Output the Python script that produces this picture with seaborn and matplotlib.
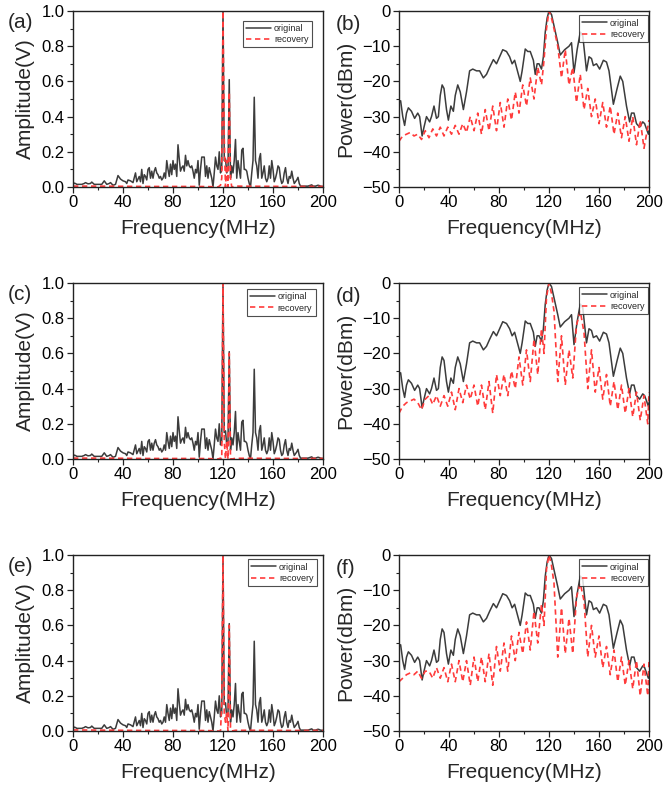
import numpy as np
import pandas as pd
import matplotlib
matplotlib.use("Agg")
import matplotlib.pyplot as plt
from matplotlib.ticker import MultipleLocator, FormatStrFormatter
import seaborn as sns

sns.set_style("ticks")
plt.rcParams["font.family"] = ["Liberation Sans", "DejaVu Sans"]

# ---------------- amplitude spectrum (original, shared by a/c/e) ----------------
amp_f = [0, 1, 2, 3, 5, 7, 9, 10, 12, 14, 15, 17, 19, 21, 23, 25, 27, 29, 30, 32, 34,
         36, 38, 40, 42, 43, 44, 46, 48, 50, 51, 53, 54, 55, 56, 57, 58, 59, 60, 61,
         62, 63, 64, 65, 66, 67, 68, 69, 70, 71, 72, 73, 74, 75, 76, 77, 78, 79, 80,
         81, 82, 83, 84, 85, 86, 87, 88, 89, 90, 91, 92, 93, 94, 95, 96, 97, 98, 99,
         100, 101, 102, 103, 104, 105, 106, 107, 108, 109, 110, 111, 112, 113, 114,
         115, 116, 117, 118, 119, 120, 121, 122, 123, 124, 125, 126, 127, 128, 129,
         130, 131, 132, 133, 134, 135, 136, 137, 138, 139, 140, 141, 142, 143, 144,
         145, 146, 147, 148, 149, 150, 151, 152, 153, 154, 155, 156, 157, 158, 159,
         160, 161, 162, 163, 164, 165, 166, 167, 168, 169, 170, 171, 172, 173, 174,
         175, 176, 177, 178, 179, 180, 181, 182, 184, 186, 188, 190, 191, 192, 194,
         196, 197, 198, 200]
amp_orig = [0.03, 0.02, 0.02, 0.015, 0.015, 0.015, 0.02, 0.025, 0.018, 0.02, 0.028,
            0.015, 0.015, 0.015, 0.015, 0.035, 0.015, 0.02, 0.025, 0.01, 0.015,
            0.065, 0.045, 0.035, 0.03, 0.02, 0.04, 0.035, 0.025, 0.08, 0.03, 0.06,
            0.03, 0.10, 0.02, 0.07, 0.06, 0.04, 0.10, 0.11, 0.05, 0.09, 0.05, 0.09,
            0.11, 0.08, 0.07, 0.05, 0.06, 0.04, 0.05, 0.08, 0.05, 0.15, 0.10, 0.06,
            0.13, 0.07, 0.15, 0.10, 0.13, 0.06, 0.24, 0.16, 0.09, 0.11, 0.12, 0.09,
            0.18, 0.12, 0.15, 0.12, 0.11, 0.12, 0.09, 0.05, 0.10, 0.08, 0.15, 0.01,
            0.10, 0.17, 0.17, 0.17, 0.06, 0.12, 0.05, 0.11, 0.08, 0.05, 0.00, 0.08,
            0.17, 0.12, 0.10, 0.20, 0.08, 0.10, 1.00, 0.15, 0.16, 0.08, 0.10, 0.61,
            0.05, 0.12, 0.08, 0.15, 0.27, 0.05, 0.15, 0.10, 0.05, 0.21, 0.22, 0.10,
            0.10, 0.09, 0.05, 0.02, 0.00, 0.08, 0.15, 0.51, 0.15, 0.12, 0.05, 0.16,
            0.19, 0.05, 0.08, 0.12, 0.05, 0.03, 0.05, 0.12, 0.05, 0.15, 0.10, 0.03,
            0.05, 0.08, 0.12, 0.11, 0.05, 0.02, 0.03, 0.08, 0.11, 0.05, 0.02, 0.06,
            0.05, 0.09, 0.05, 0.02, 0.03, 0.04, 0.055, 0.02, 0.005, 0.005, 0.005,
            0.005, 0.01, 0.012, 0.005, 0.005, 0.01, 0.008, 0.005, 0.003]

# ---------------- amplitude spectrum (recovered) ----------------
rec_amp_f = [0, 20, 40, 60, 80, 100, 110, 116, 118, 119, 120, 121, 122, 123, 124, 125,
             126, 127, 130, 150, 180, 200]
rec_amp_a = [0.005, 0.005, 0.004, 0.003, 0.003, 0.003, 0.002, 0.0, 0.01, 0.05, 1.0,
             0.28, 0.0, 0.15, 0.0, 0.54, 0.05, 0.0, 0.005, 0.004, 0.003, 0.003]
rec_amp_c = [0.005, 0.005, 0.004, 0.003, 0.003, 0.003, 0.002, 0.0, 0.005, 0.0, 1.0,
             0.10, 0.0, 0.10, 0.0, 0.60, 0.0, 0.0, 0.004, 0.004, 0.003, 0.003]
rec_amp_e = [0.006, 0.005, 0.004, 0.003, 0.003, 0.003, 0.002, 0.0, 0.0, 0.15, 1.0,
             0.10, 0.05, 0.10, 0.0, 0.60, 0.02, 0.0, 0.004, 0.004, 0.003, 0.003]

# ---------------- power spectrum (original, shared by b/d/f) ----------------
pow_f = [0, 1.3, 3, 4.5, 6, 7.5, 10, 12.5, 15, 16.5, 18.5, 20, 22, 24.5, 26, 28, 30,
         31.5, 33, 34.5, 36, 38, 39.5, 41.5, 43.5, 45, 47, 49, 51.5, 54, 56.5, 59, 62,
         64.5, 67.5, 70, 72.5, 75.5, 78, 80.5, 83, 86, 88.5, 90.5, 92.5, 94, 97, 98.5,
         101, 103, 105, 107.5, 109, 110.5, 112, 114, 115.5, 117, 118.5, 120, 122,
         124.5, 127, 129, 132.5, 136, 138, 140, 142.5, 145, 147, 150, 152, 154, 155.5,
         158, 160.5, 163.5, 166, 168, 171.5, 174.5, 177, 179, 182, 184.5, 186, 188,
         190, 192.5, 195, 196.5, 198, 199.5, 200]
pow_orig = [-26, -25.5, -30, -32.5, -29, -27.5, -28.5, -30.5, -29, -30, -35.5, -33,
            -30, -31.5, -30, -27, -30.5, -30, -24, -21, -22, -28, -31, -27, -28.5, -24,
            -21, -23, -28, -23, -17, -16.5, -17, -17, -19, -18, -16, -13.8, -15, -13,
            -11, -11.5, -13, -15, -14, -16, -20, -17, -10.8, -11.5, -11.5, -14, -18,
            -15, -15, -16.5, -13, -6, -2, 0, -1, -5, -9, -12.5, -11, -10, -9, -17.5,
            -11, -6, -7, -17, -13, -13.5, -15.5, -15, -16.5, -14, -14.5, -17, -26.5,
            -22, -18.5, -20, -27, -31.5, -29, -29, -32, -33, -31.5, -32, -33.5, -35,
            -34]

# ---------------- power spectrum (recovered) ----------------
# 3 MHz sampling on the flanks, finer sampling across the main lobe
rec_pow_f = (list(range(0, 115, 3)) + [116, 118, 120, 122, 124]
             + list(range(127, 200, 3)) + [200])

rec_pow_b = ([-37, -35.5, -35, -34.5, -35.5, -35, -36.5, -34, -36, -33.5,
              -35.5, -33, -35.5, -33, -35, -32.5, -35, -32, -34.5, -30,
              -34, -29, -35, -28, -34, -27, -34, -26, -33, -25,
              -31, -23, -29, -21, -27, -19, -25, -16, -21]
             + [-14, -5, 0, -2, -5]
             + [-10, -19, -11, -21, -16, -26, -18, -28, -22, -30,
                -25, -32, -26, -33, -27, -35, -29, -36, -30, -37,
                -30, -38, -31, -39, -33]
             + [-31])
rec_pow_d = ([-37, -35, -34, -33.5, -33, -34, -36, -33, -32, -34.5,
              -32, -35, -32, -35, -31, -36, -30, -34, -29, -33,
              -29, -35, -29, -36, -28, -37, -26, -32, -26, -32,
              -25, -30, -21, -29, -19, -28, -16, -26, -13]
             + [-20, -4, 0, -3, -8]
             + [-28, -15, -29, -19, -27, -12, -8, -14, -30, -19,
                -31, -24, -33, -26, -35, -28, -36, -29, -37, -30,
                -38, -31, -39, -32, -40]
             + [-31])
rec_pow_f6 = ([-36, -35, -34, -33.5, -34, -33, -35, -33, -33, -35,
               -32, -35, -32, -36, -31, -36, -30, -36, -30, -37,
               -29, -36, -29, -36, -28, -37, -26, -33, -25, -33,
               -23, -30, -22, -28, -19, -27, -16, -25, -14]
              + [-20, -4, 0, -3, -8]
              + [-29, -15, -28, -18, -28, -12, -8, -13, -29, -20,
                 -29, -23, -32, -26, -34, -27, -36, -29, -37, -30,
                 -38, -30, -40, -31, -40]
              + [-30])

ORIG_COLOR = "#3c3c3c"
REC_COLOR = "#ff3b3b"
REC_DASH = (0, (3.2, 2.2))

W, H = 663, 787
fig = plt.figure(figsize=(W / 100, H / 100), dpi=100)


def ax_at(left, top, right, bottom):
    return fig.add_axes([left / W, 1 - bottom / H, (right - left) / W, (bottom - top) / H])


rows = [(11, 187), (283, 459), (555, 731)]
left_x = (73, 323)
right_x = (399, 649)

amp_recs = [rec_amp_a, rec_amp_c, rec_amp_e]
pow_recs = [rec_pow_b, rec_pow_d, rec_pow_f6]
letters = [("(a)", "(b)"), ("(c)", "(d)"), ("(e)", "(f)")]
leg_left = [(0.955, 0.945), (0.97, 0.965), (0.975, 0.975)]


def style_axes(ax):
    for s in ax.spines.values():
        s.set_color("#222222")
        s.set_linewidth(1.0)
    ax.tick_params(which="major", direction="out", length=4, width=0.9,
                   labelsize=12, pad=2, colors="#222222", labelcolor="black")
    ax.tick_params(which="minor", direction="out", length=2.5, width=0.8, colors="#222222")
    ax.tick_params(top=False, right=False)
    ax.set_xlim(0, 200)
    ax.xaxis.set_major_locator(MultipleLocator(40))
    ax.xaxis.set_minor_locator(MultipleLocator(20))
    ax.set_xlabel("Frequency(MHz)", fontsize=15, labelpad=6)


def add_legend(ax, anchor):
    leg = ax.legend(loc="upper right", bbox_to_anchor=anchor, fontsize=6.5,
                    frameon=True, fancybox=False, handlelength=2.8,
                    handletextpad=0.3, borderpad=0.35, labelspacing=0.25,
                    borderaxespad=0.0)
    leg.get_frame().set_edgecolor("#222222")
    leg.get_frame().set_linewidth(0.8)


for i, (top, bottom) in enumerate(rows):
    # amplitude panel
    ax = ax_at(left_x[0], top, left_x[1], bottom)
    df_o = pd.DataFrame({"f": amp_f, "v": amp_orig})
    df_r = pd.DataFrame({"f": rec_amp_f, "v": amp_recs[i]})
    sns.lineplot(data=df_o, x="f", y="v", ax=ax, color=ORIG_COLOR, lw=1.1,
                 label="original", estimator=None)
    sns.lineplot(data=df_r, x="f", y="v", ax=ax, color=REC_COLOR, lw=1.2,
                 label="recovery", estimator=None, linestyle=REC_DASH)
    ax.set_ylim(0, 1.0)
    ax.yaxis.set_major_locator(MultipleLocator(0.2))
    ax.yaxis.set_minor_locator(MultipleLocator(0.1))
    ax.yaxis.set_major_formatter(FormatStrFormatter("%.1f"))
    style_axes(ax)
    ax.set_ylabel("Amplitude(V)", fontsize=15, labelpad=5)
    add_legend(ax, leg_left[i])
    fig.text(8 / W, 1 - (top + 11) / H, letters[i][0], fontsize=15, va="center", ha="left")

    # power panel
    ax = ax_at(right_x[0], top, right_x[1], bottom)
    df_o = pd.DataFrame({"f": pow_f, "v": pow_orig})
    df_r = pd.DataFrame({"f": rec_pow_f, "v": pow_recs[i]})
    sns.lineplot(data=df_o, x="f", y="v", ax=ax, color=ORIG_COLOR, lw=1.1,
                 label="original", estimator=None)
    sns.lineplot(data=df_r, x="f", y="v", ax=ax, color=REC_COLOR, lw=1.2,
                 label="recovery", estimator=None, linestyle=REC_DASH)
    ax.set_ylim(-50, 0)
    ax.yaxis.set_major_locator(MultipleLocator(10))
    ax.yaxis.set_minor_locator(MultipleLocator(5))
    style_axes(ax)
    ax.set_ylabel("Power(dBm)", fontsize=15, labelpad=5)
    add_legend(ax, (0.995, 0.975))
    fig.text(336 / W, 1 - (top + 14) / H, letters[i][1], fontsize=15, va="center", ha="left")

fig.savefig("out.png", dpi=100)
